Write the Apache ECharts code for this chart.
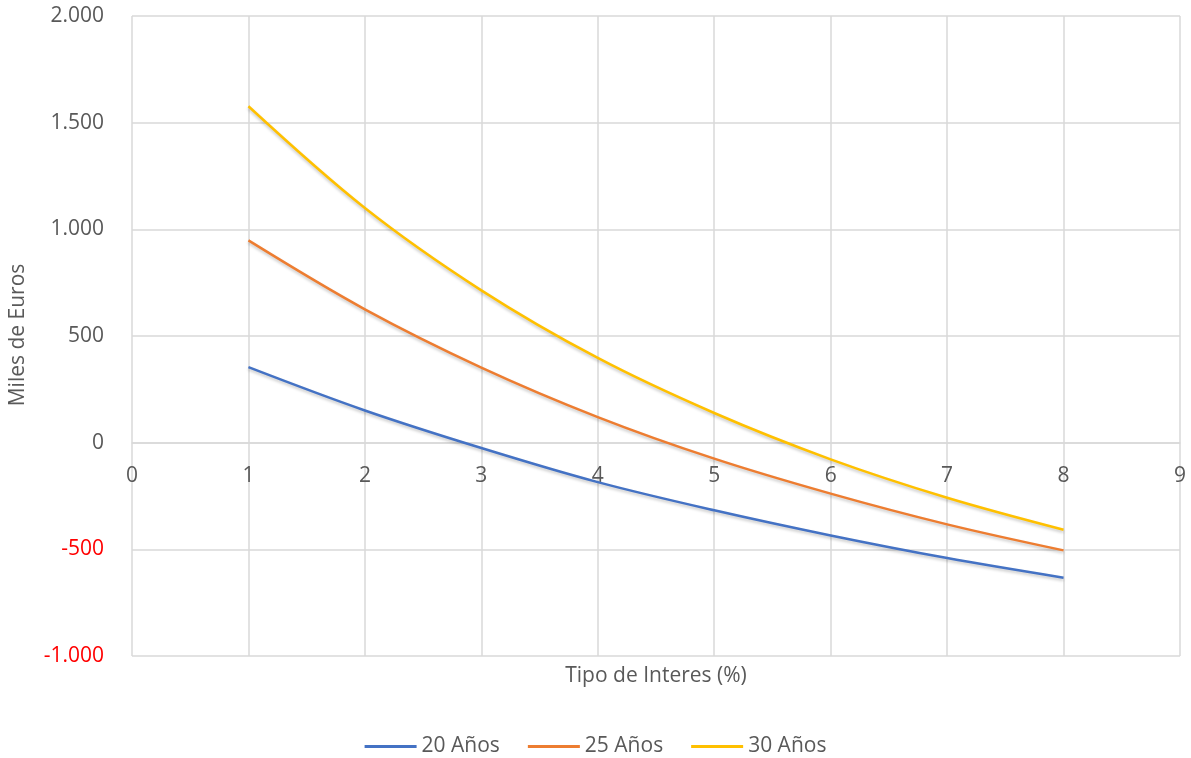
<!DOCTYPE html>
<html>
<head>
<meta charset="utf-8">
<script src="https://cdn.jsdelivr.net/npm/echarts@6/dist/echarts.min.js"></script>
<style>html,body{margin:0;padding:0;background:#fff}#c{width:1191px;height:758px}</style>
</head>
<body>
<div id="c"></div>
<script>
const rates = [1, 2, 3, 4, 5, 6, 7, 8];
const seriesNames = ['20 Años', '25 Años', '30 Años'];
const values20 = [354, 151, -25, -185, -317, -435, -541, -633];
const values25 = [948, 625, 352, 120, -75, -239, -383, -505];
const values30 = [1577, 1100, 714, 397, 139, -78, -258, -408];
const yTicks = [-1000, -500, 0, 500, 1000, 1500, 2000];
const xTicks = [0, 1, 2, 3, 4, 5, 6, 7, 8, 9];
const colors = ['#4472C4', '#ED7D31', '#FFC000'];

const FONT = '"Open Sans"';
const FS = 21;
const TXT = '#595959';
const GRID_LEFT = 132, GRID_RIGHT = 11, GRID_TOP = 16, GRID_BOTTOM = 102, W = 1191, H = 758;
function fmt(v) {
  const s = Math.abs(v).toString().replace(/\B(?=(\d{3})+(?!\d))/g, '.');
  return (v < 0 ? '-' : '') + s;
}
function mk(name, vals, color) {
  return {
    name: name, type: 'line', smooth: 0.35, symbol: 'none',
    data: rates.map((r, i) => [r, vals[i]]),
    lineStyle: { color: color, width: 2.5, shadowColor: 'rgba(0,0,0,0.22)', shadowBlur: 3, shadowOffsetY: 2 },
    itemStyle: { color: color }
  };
}
const yMin = yTicks[0], yMax = yTicks[yTicks.length - 1];
const plotH = H - GRID_TOP - GRID_BOTTOM;
const zeroOffset = -plotH * (0 - yMin) / (yMax - yMin);
const plotCenterX = GRID_LEFT + (W - GRID_LEFT - GRID_RIGHT) / 2;

const chart = echarts.init(document.getElementById('c'), null, { renderer: 'canvas' });
chart.setOption({
  animation: false,
  textStyle: { fontFamily: FONT },
  grid: { left: GRID_LEFT, right: GRID_RIGHT, top: GRID_TOP, bottom: GRID_BOTTOM, containLabel: false },
  xAxis: {
    type: 'value', min: xTicks[0], max: xTicks[xTicks.length - 1], interval: 1,
    position: 'bottom', offset: zeroOffset,
    axisLine: { show: true, onZero: false, lineStyle: { color: '#d9d9d9', width: 1.5 } },
    axisTick: { show: false },
    axisLabel: { color: TXT, fontSize: FS, fontFamily: FONT, margin: 23, showMinLabel: true, showMaxLabel: true },
    splitLine: { show: true, lineStyle: { color: '#d9d9d9', width: 1.5 } }
  },
  yAxis: {
    type: 'value', min: yMin, max: yMax, interval: 500,
    axisLine: { show: false }, axisTick: { show: false },
    axisLabel: {
      fontSize: FS, fontFamily: FONT, margin: 28,
      formatter: v => (v < 0 ? '{neg|' + fmt(v) + '}' : '{pos|' + fmt(v) + '}'),
      rich: { neg: { color: '#FF0000', fontSize: FS, fontFamily: FONT }, pos: { color: TXT, fontSize: FS, fontFamily: FONT } }
    },
    splitLine: { show: true, lineStyle: { color: '#d9d9d9', width: 1.5 } }
  },
  legend: {
    top: 731, left: 'center', itemWidth: 52, itemHeight: 3, itemGap: 28,
    icon: 'rect',
    textStyle: { color: TXT, fontSize: FS, fontFamily: FONT },
    data: seriesNames
  },
  graphic: [
    { type: 'text', x: plotCenterX, y: 676, style: { text: 'Tipo de Interes (%)', fill: TXT, font: FS + 'px ' + FONT, align: 'center', verticalAlign: 'middle' } },
    { type: 'text', rotation: Math.PI / 2, x: 18, y: 335, style: { text: 'Miles de Euros', fill: TXT, font: FS + 'px ' + FONT, align: 'center', verticalAlign: 'middle' } }
  ],
  series: [mk(seriesNames[0], values20, colors[0]), mk(seriesNames[1], values25, colors[1]), mk(seriesNames[2], values30, colors[2])]
});
</script>
</body>
</html>
